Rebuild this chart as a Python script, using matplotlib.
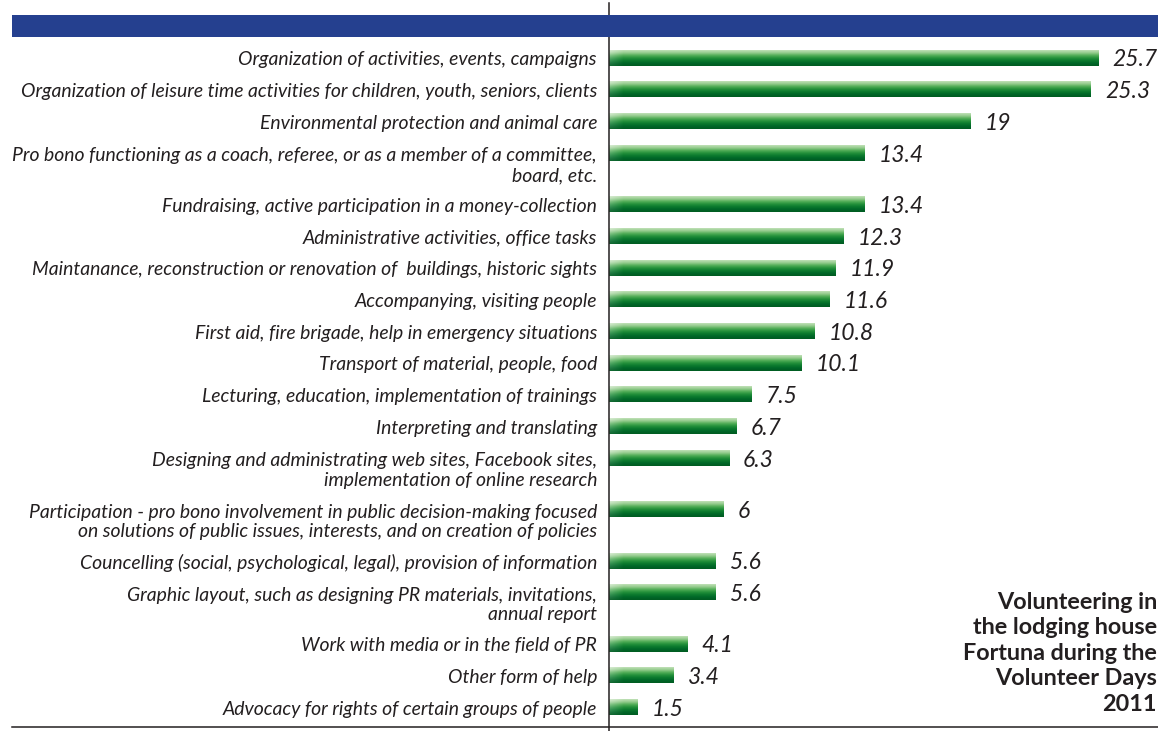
import numpy as np
import matplotlib
matplotlib.use("Agg")
import matplotlib.pyplot as plt
from matplotlib.colors import to_rgb
from matplotlib.lines import Line2D
from matplotlib.patches import Rectangle

activities = [
    "Organization of activities, events, campaigns",
    "Organization of leisure time activities for children, youth, seniors, clients",
    "Environmental protection and animal care",
    "Pro bono functioning as a coach, referee, or as a member of a committee,\nboard, etc.",
    "Fundraising, active participation in a money-collection",
    "Administrative activities, office tasks",
    "Maintanance, reconstruction or renovation of  buildings, historic sights",
    "Accompanying, visiting people",
    "First aid, fire brigade, help in emergency situations",
    "Transport of material, people, food",
    "Lecturing, education, implementation of trainings",
    "Interpreting and translating",
    "Designing and administrating web sites, Facebook sites,\nimplementation of online research",
    "Participation - pro bono involvement in public decision-making focused\non solutions of public issues, interests, and on creation of policies",
    "Councelling (social, psychological, legal), provision of information",
    "Graphic layout, such as designing PR materials, invitations,\nannual report",
    "Work with media or in the field of PR",
    "Other form of help",
    "Advocacy for rights of certain groups of people",
]
shares = [25.7, 25.3, 19, 13.4, 13.4, 12.3, 11.9, 11.6, 10.8, 10.1,
          7.5, 6.7, 6.3, 6, 5.6, 5.6, 4.1, 3.4, 1.5]
value_labels = ["25.7", "25.3", "19", "13.4", "13.4", "12.3", "11.9", "11.6", "10.8", "10.1",
                "7.5", "6.7", "6.3", "6", "5.6", "5.6", "4.1", "3.4", "1.5"]
title = "Volunteering in\nthe lodging house\nFortuna during the\nVolunteer Days\n2011"

W, H = 1158, 731
AXIS_X = 609
PX_PER_UNIT = 19.05
ROW = 31.7
EXTRA_LINE = 19.7
BAR_H = 15.5
TEXT = "#231f20"
BLUE = "#25408f"
FONT = ["Lato", "DejaVu Sans"]

# row centres in pixels (two-line labels take more room)
centres = []
y = 58.0
for lab in activities:
    centres.append(y)
    y += ROW + EXTRA_LINE * lab.count("\n")

fig = plt.figure(figsize=(W / 100, H / 100), dpi=100)
ax = fig.add_axes([AXIS_X / W, 0, (W - AXIS_X) / W, 1])
ax.set_xlim(0, (W - AXIS_X) / PX_PER_UNIT)
ax.set_ylim(H, 0)
ax.axis("off")
ax.set_zorder(1)

# vertical gradient for the bars
stops = ["#bfe0b6", "#94cc8d", "#52ad57", "#24913b", "#0b7a2e", "#006628", "#005c22"]
rows = 40
vert = np.zeros((rows, 3))
pos = np.linspace(0, 1, len(stops))
for c in range(3):
    vert[:, c] = np.interp(np.linspace(0, 1, rows), pos, [to_rgb(s)[c] for s in stops])

for lab, val, yc in zip(activities, shares, centres):
    npx = max(int(val * PX_PER_UNIT), 2)
    img = np.repeat(vert[:, None, :], npx, axis=1)
    # soft highlight at the left end
    hl = np.clip(1 - np.arange(npx) / 14.0, 0, 1)[None, :, None]
    fall = np.linspace(1, 0.2, rows)[:, None, None]
    img = img + (1 - img) * 0.4 * hl * fall
    ax.imshow(img, extent=(0, val, yc + BAR_H / 2, yc - BAR_H / 2),
              aspect="auto", interpolation="bilinear", zorder=2)

for lab, txt, val, yc in zip(activities, value_labels, shares, centres):
    n = lab.count("\n")
    ax.annotate(lab, xy=(0, yc), xytext=(-12, -2 - n * 21 / 2), textcoords="offset pixels",
                ha="right", va="center", ma="right", fontsize=13.95, style="italic",
                family=FONT, color=TEXT, linespacing=1.18)
    ax.annotate(txt, xy=(val, yc), xytext=(14, -2), textcoords="offset pixels",
                ha="left", va="center", fontsize=16.5, style="italic",
                family=FONT, color=TEXT)

ax.add_line(Line2D([0, 0], [3, H], color=TEXT, lw=1.1, zorder=3, clip_on=False))

over = fig.add_axes([0, 0, 1, 1])
over.set_xlim(0, W)
over.set_ylim(H, 0)
over.axis("off")
over.set_zorder(2)
over.patch.set_alpha(0)
over.add_patch(Rectangle((12, 15), W - 12, 22, color=BLUE, lw=0))
over.add_line(Line2D([12, W], [727, 727], color=TEXT, lw=1.1))
over.text(1157, 592, title, ha="right", va="top", ma="right", fontsize=16.8,
          fontweight="bold", family=FONT, color=TEXT, linespacing=1.26)

fig.savefig("out.png", dpi=100)
